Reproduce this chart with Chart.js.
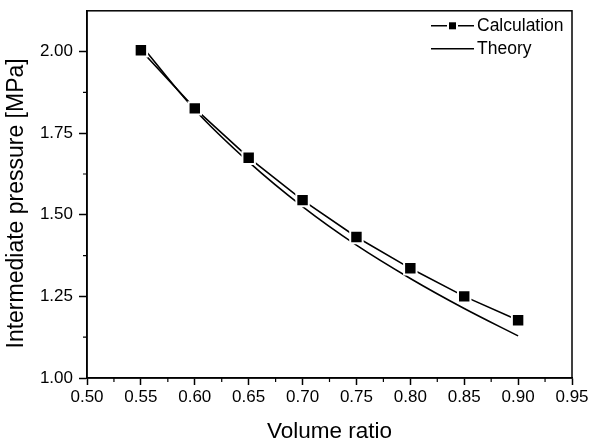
<!DOCTYPE html>
<html><head><meta charset="utf-8">
<script src="https://cdn.jsdelivr.net/npm/chart.js@4"></script>
<style>html,body{margin:0;padding:0;background:#fff;}#wrap{width:591px;height:446px;}</style>
</head><body><div id="wrap"><canvas id="c" width="591" height="446"></canvas></div>
<script>
const volumeRatio = [0.55, 0.60, 0.65, 0.70, 0.75, 0.80, 0.85, 0.90];
const calculation = [2.004, 1.826, 1.675, 1.545, 1.432, 1.336, 1.250, 1.177];
const theory = [2.020, 1.822, 1.662, 1.525, 1.407, 1.305, 1.213, 1.129];
const xTicks = [0.50, 0.55, 0.60, 0.65, 0.70, 0.75, 0.80, 0.85, 0.90, 0.95];
const yTicks = [1.00, 1.25, 1.50, 1.75, 2.00];
const xMinorTicks = [0.525, 0.575, 0.625, 0.675, 0.725, 0.775, 0.825, 0.875, 0.925];
const yMinorTicks = [1.125, 1.375, 1.625, 1.875];
const yTitle = 'Intermediate pressure [MPa]';

const FONT = "'Liberation Sans', Arial, sans-serif";

const framePlugin = {
  id: 'frame',
  afterDraw(chart) {
    const {ctx, chartArea: a, scales} = chart;
    ctx.save();
    ctx.strokeStyle = '#000';
    ctx.lineWidth = 1.5;
    ctx.strokeRect(a.left, a.top, a.right - a.left, a.bottom - a.top);
    // minor ticks
    ctx.lineWidth = 1.2;
    ctx.beginPath();
    xMinorTicks.forEach(v => {
      const px = scales.x.getPixelForValue(v);
      ctx.moveTo(px, a.bottom); ctx.lineTo(px, a.bottom + 4);
    });
    yMinorTicks.forEach(v => {
      const py = scales.y.getPixelForValue(v);
      ctx.moveTo(a.left, py); ctx.lineTo(a.left - 4, py);
    });
    ctx.stroke();
    // y axis title (positioned slightly below the axis centre, as in the original)
    ctx.save();
    ctx.font = '23px ' + FONT;
    ctx.fillStyle = '#000';
    ctx.textAlign = 'center';
    ctx.textBaseline = 'middle';
    ctx.translate(17, (a.top + a.bottom) / 2 + 9);
    ctx.rotate(-Math.PI / 2);
    ctx.fillText(yTitle, 0, 0);
    ctx.restore();
    // legend
    ctx.font = '17.5px ' + FONT;
    ctx.fillStyle = '#000';
    ctx.textBaseline = 'middle';
    ctx.textAlign = 'left';
    const textX = a.right - 95;
    const x0 = textX - 46, x1 = textX - 3;
    chart.data.datasets.forEach((ds, i) => {
      const y = a.top + 15 + i * 23;
      ctx.lineWidth = 1.5;
      ctx.beginPath(); ctx.moveTo(x0, y); ctx.lineTo(x1, y); ctx.stroke();
      if (ds.pointRadius > 0) {
        ctx.fillStyle = '#fff';
        ctx.fillRect((x0 + x1) / 2 - 5.5, y - 5, 11, 10);
        ctx.fillStyle = '#000';
        ctx.fillRect((x0 + x1) / 2 - 3.5, y - 3.5, 7, 7);
      }
      ctx.fillText(ds.label, textX, y);
    });
    ctx.restore();
  }
};

new Chart(document.getElementById('c'), {
  type: 'line',
  data: {
    datasets: [
      {
        label: 'Calculation',
        data: volumeRatio.map((x, i) => ({x, y: calculation[i]})),
        borderColor: '#000', borderWidth: 1.6,
        pointStyle: 'rect', pointRadius: 8.8, pointBorderWidth: 2,
        pointBackgroundColor: '#000', pointBorderColor: '#fff',
        tension: 0
      },
      {
        label: 'Theory',
        data: volumeRatio.map((x, i) => ({x, y: theory[i]})),
        borderColor: '#000', borderWidth: 1.6,
        pointRadius: 0, cubicInterpolationMode: 'monotone'
      }
    ]
  },
  options: {
    responsive: false, animation: false,
    layout: {padding: {top: 10, right: 19, left: 0, bottom: 0}},
    plugins: {legend: {display: false}, tooltip: {enabled: false}},
    scales: {
      x: {
        type: 'linear', min: 0.5, max: 0.95,
        afterBuildTicks: s => { s.ticks = xTicks.map(v => ({value: v})); },
        afterFit: s => { s.height = 68; s.paddingLeft = 0; s.paddingRight = 0; },
        ticks: {callback: v => v.toFixed(2), color: '#000', font: {family: FONT, size: 17}, padding: 2, maxRotation: 0, autoSkip: false},
        grid: {drawOnChartArea: false, tickLength: 7, tickColor: '#000', tickWidth: 1.5},
        border: {color: '#000', width: 1.5},
        title: {display: true, text: 'Volume ratio', color: '#000', font: {family: FONT, size: 22.5}, padding: {top: 0, bottom: 1}}
      },
      y: {
        type: 'linear', min: 1.0, max: 2.125,
        afterBuildTicks: s => { s.ticks = yTicks.map(v => ({value: v})); },
        afterFit: s => { s.width = 87; s.paddingTop = 0; s.paddingBottom = 0; },
        ticks: {callback: v => v.toFixed(2), color: '#000', font: {family: FONT, size: 17}, padding: 6, autoSkip: false},
        grid: {drawOnChartArea: false, tickLength: 8, tickColor: '#000', tickWidth: 1.5},
        border: {color: '#000', width: 1.5},
        title: {display: false}
      }
    }
  },
  plugins: [framePlugin]
});
</script>
</body></html>
